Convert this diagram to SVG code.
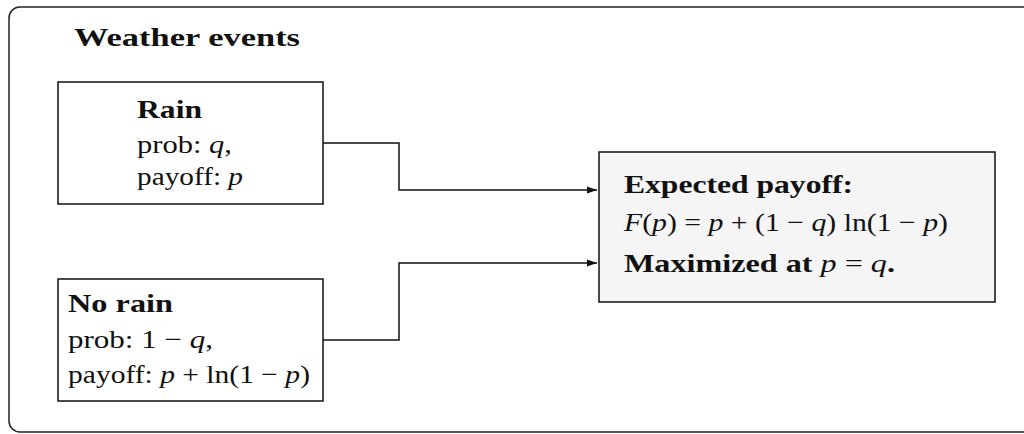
<svg xmlns="http://www.w3.org/2000/svg" width="1024" height="434" viewBox="0 0 1024 434">
<style>
text{font-family:"Liberation Serif","Times New Roman",serif;font-size:26px;fill:#111}
.b{font-weight:bold}
.i{font-style:italic}
.box{fill:#fff;stroke:#111;stroke-width:1.5}
.conn{fill:none;stroke:#111;stroke-width:1.5}
</style>
<defs>
<marker id="arr" markerWidth="10" markerHeight="8" refX="10" refY="4" orient="auto" markerUnits="userSpaceOnUse">
<path d="M0,0.5 L10,4 L0,7.5 Z" fill="#111"/>
</marker>
</defs>
<g id="frame">
<rect x="9" y="7" width="1040" height="425" rx="11" fill="none" stroke="#222" stroke-width="1.5"/>
<text class="b" x="74" y="46" textLength="226" lengthAdjust="spacingAndGlyphs">Weather events</text>
</g>
<g id="rain">
<rect class="box" x="58" y="82" width="265" height="122"/>
<text class="b" x="137" y="118" textLength="65" lengthAdjust="spacingAndGlyphs">Rain</text>
<text x="137" y="153" textLength="95" lengthAdjust="spacingAndGlyphs">prob: <tspan class="i">q</tspan>,</text>
<text x="137" y="185" textLength="106" lengthAdjust="spacingAndGlyphs">payoff: <tspan class="i">p</tspan></text>
</g>
<g id="norain">
<rect class="box" x="58" y="279" width="265" height="122"/>
<text class="b" x="68" y="312" textLength="105" lengthAdjust="spacingAndGlyphs">No rain</text>
<text x="68" y="348" textLength="145" lengthAdjust="spacingAndGlyphs">prob: 1 − <tspan class="i">q</tspan>,</text>
<text x="68" y="383" textLength="242" lengthAdjust="spacingAndGlyphs">payoff: <tspan class="i">p</tspan> + ln(1 − <tspan class="i">p</tspan>)</text>
</g>
<g id="expected">
<rect x="599" y="152" width="396" height="150" fill="#f5f5f5" stroke="#111" stroke-width="1.5"/>
<text class="b" x="624" y="193" textLength="229" lengthAdjust="spacingAndGlyphs">Expected payoff:</text>
<text x="624" y="231" textLength="324" lengthAdjust="spacingAndGlyphs"><tspan class="i">F</tspan>(<tspan class="i">p</tspan>) = <tspan class="i">p</tspan> + (1 − <tspan class="i">q</tspan>) ln(1 − <tspan class="i">p</tspan>)</text>
<text class="b" x="624" y="272" textLength="271" lengthAdjust="spacingAndGlyphs">Maximized at <tspan class="i" font-weight="normal">p</tspan><tspan font-weight="normal"> = </tspan><tspan class="i" font-weight="normal">q</tspan>.</text>
</g>
<g id="connectors">
<path class="conn" d="M323,143 H399 V190 H597" marker-end="url(#arr)"/>
<path class="conn" d="M323,340 H399 V263 H597" marker-end="url(#arr)"/>
</g>
</svg>
